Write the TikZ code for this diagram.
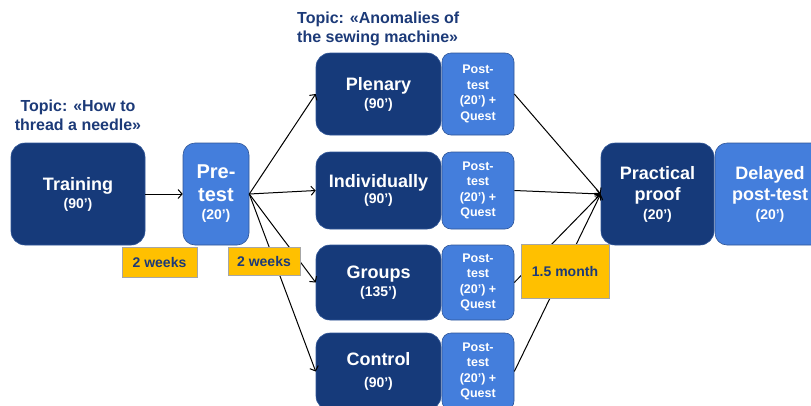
\documentclass[tikz,border=0pt]{standalone}
\usepackage{fontspec}
\setmainfont{Liberation Sans}
\usetikzlibrary{arrows.meta}
\definecolor{navy}{RGB}{22,58,122}
\definecolor{midblue}{RGB}{68,126,220}
\definecolor{midedge}{RGB}{47,85,151}
\definecolor{gold}{RGB}{255,192,0}
\definecolor{topictxt}{RGB}{28,58,120}
\tikzset{
  darkbox/.style={draw=midedge, line width=0.6pt, fill=navy, rounded corners=14pt, text=white, align=center, font=\bfseries\fontsize{18}{21}\selectfont, inner sep=0pt},
  lightbox/.style={draw=midedge, line width=0.6pt, fill=midblue, rounded corners=12pt, text=white, align=center, font=\bfseries\fontsize{18}{21}\selectfont, inner sep=0pt},
  postbox/.style={draw=midedge, line width=0.6pt, fill=midblue, rounded corners=9pt, text=white, align=center, font=\bfseries\fontsize{12.5}{15.5}\selectfont, inner sep=0pt, minimum width=72pt},
  waitbox/.style={draw=gray!70, line width=0.4pt, fill=gold, text=topictxt, font=\bfseries\fontsize{14}{16}\selectfont, inner sep=0pt},
  topic/.style={text=topictxt, font=\bfseries\fontsize{16}{19}\selectfont, inner sep=0pt},
  conn/.style={draw=black, line width=1pt, -{Straight Barb[length=4pt,width=9pt,line width=1pt]}}
}
\newcommand{\smallt}{\fontsize{14}{16}\selectfont}
\begin{document}
\begin{tikzpicture}[x=1pt,y=-1pt]
\useasboundingbox (0,0) rectangle (811,405);
\clip (0,0) rectangle (811,405);
% topics
\node[topic, align=center] (topicA) at (78,115) {Topic: «How to\\thread a needle»};
\node[topic, align=left, anchor=west] (topicB) at (297,29) {Topic: «Anomalies of\\the sewing machine»};
% main boxes
\node[darkbox, minimum width=134pt, minimum height=102pt] (train) at (78,194) {Training\\[-3pt]\smallt (90’)};
\node[lightbox, minimum width=66pt, minimum height=102pt, font=\bfseries\fontsize{20}{23}\selectfont] (pre) at (216,194) {Pre-\\test\\[-5pt]\smallt (20’)};
\node[darkbox, minimum width=125pt, minimum height=82pt] (plen) at (378.5,94) {Plenary\\[-3pt]\smallt (90’)};
\node[postbox, minimum height=82pt] (plenpost) at (478,94) {Post-\\test\\(20’) +\\Quest};
\node[darkbox, minimum width=125pt, minimum height=77pt] (indiv) at (378.5,190.5) {Individually\\[-5pt]\smallt (90’)};
\node[postbox, minimum height=77pt] (indivpost) at (478,190.5) {Post-\\test\\(20’) +\\Quest};
\node[darkbox, minimum width=125pt, minimum height=75pt] (grp) at (378.5,282.5) {Groups\\[-3pt]\smallt (135’)};
\node[postbox, minimum height=75pt] (grppost) at (478,282.5) {Post-\\test\\(20’) +\\Quest};
\node[darkbox, minimum width=125pt, minimum height=77pt] (ctrl) at (378.5,371.5) {Control\\[1pt]\smallt (90’)};
\node[postbox, minimum height=77pt] (ctrlpost) at (478,371.5) {Post-\\test\\(20’) +\\Quest};
\node[darkbox, minimum width=113pt, minimum height=102pt] (prac) at (657.5,194) {Practical\\proof\\[-2pt]\smallt (20’)};
\node[lightbox, minimum width=110pt, minimum height=102pt] (delay) at (770,194) {Delayed\\post-test\\[-2pt]\smallt (20’)};
% connectors
\draw[conn] (train.east) -- (pre.west);
\draw[conn] (pre.east) -- (plen.west);
\draw[conn] (pre.east) -- (indiv.west);
\draw[conn] (pre.east) -- (grp.west);
\draw[conn] (pre.east) -- (ctrl.west);
\draw[conn] (plenpost.east) -- (prac.west);
\draw[conn] (indivpost.east) -- (prac.west);
\draw[conn] (grppost.east) -- (prac.west);
\draw[conn] (ctrlpost.east) -- (prac.west);
% waiting periods
\node[waitbox, minimum width=75pt, minimum height=30pt] (w1) at (159.5,262) {2 weeks};
\node[waitbox, minimum width=72pt, minimum height=28pt] (w2) at (264,261) {2 weeks};
\node[waitbox, minimum width=88pt, minimum height=54pt] (w3) at (565,271) {1.5 month};
\end{tikzpicture}
\end{document}
